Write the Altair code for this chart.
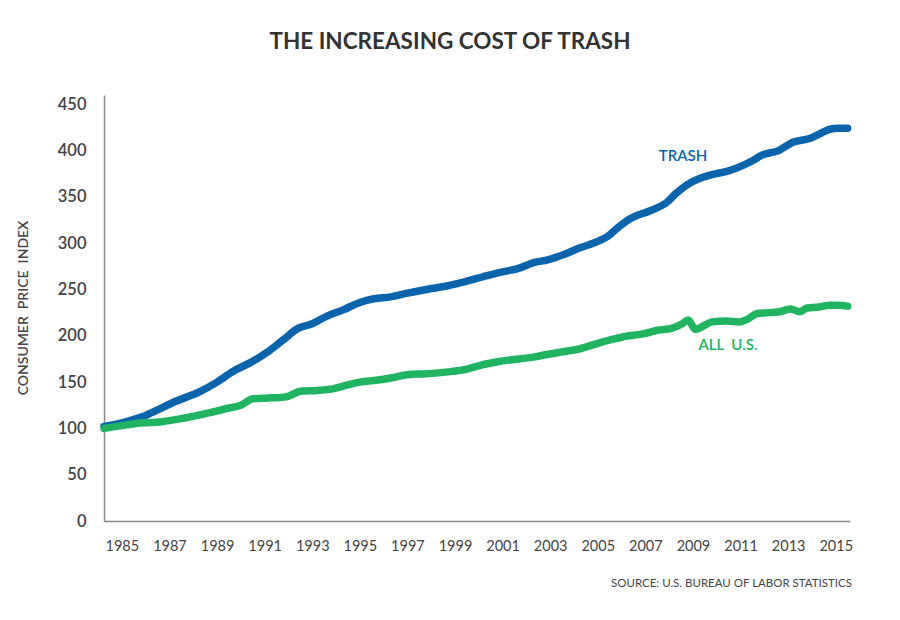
import altair as alt
import pandas as pd

trash_years = [1984.25, 1985.0, 1985.9, 1986.5, 1987.15, 1988.3, 1989.0, 1989.7, 1990.4, 1991.1,
               1991.8, 1992.4, 1993.0, 1993.6, 1994.3, 1995.0, 1995.6, 1996.3, 1997.0, 1997.8,
               1998.7, 1999.5, 2000.2, 2000.8, 2001.7, 2002.3, 2002.9, 2003.6, 2004.25, 2004.8,
               2005.4, 2005.9, 2006.4, 2007.2, 2007.9, 2008.3, 2008.75, 2009.3, 2009.8, 2010.5,
               2011.1, 2011.5, 2011.9, 2012.6, 2013.2, 2013.9, 2014.4, 2014.75, 2015.1, 2015.5]
trash_cpi = [102, 106, 113, 120, 128, 140, 150, 162, 171, 182,
             196, 208, 213, 221, 228, 236, 240, 242, 246, 250,
             254, 259, 264, 268, 273, 279, 282, 288, 295, 300,
             307, 318, 327, 335, 344, 354, 363, 370, 374, 378,
             384, 389, 395, 400, 409, 413, 419, 423, 424, 424]

all_years = [1984.25, 1985.0, 1985.9, 1986.6, 1987.6, 1988.7, 1989.5, 1990.0, 1990.5, 1991.3,
             1991.9, 1992.5, 1993.2, 1993.9, 1994.5, 1995.0, 1995.7, 1996.4, 1997.0, 1997.8,
             1998.7, 1999.5, 2000.2, 2000.8, 2001.7, 2002.3, 2002.9, 2003.6, 2004.25, 2004.9,
             2005.6, 2006.3, 2006.9, 2007.5, 2008.1, 2008.55, 2008.8, 2009.1, 2009.4, 2009.8,
             2010.4, 2010.95, 2011.3, 2011.7, 2012.2, 2012.65, 2013.1, 2013.5, 2013.8, 2014.3,
             2014.75, 2015.1, 2015.5]
all_cpi = [100, 103, 106, 107, 111, 117, 122, 125, 132, 133,
           134, 140, 141, 143, 147, 150, 152, 155, 158, 159,
           161, 164, 169, 172, 175, 177, 180, 183, 186, 191,
           196, 200, 202, 206, 208, 213, 217, 207, 210, 215,
           216, 215, 218, 224, 225, 226, 229, 226, 230, 231,
           233, 233, 232]

x_ticks = list(range(1985, 2016, 2))
y_ticks = list(range(0, 451, 50))

df = pd.concat([
    pd.DataFrame({"year": trash_years, "cpi": trash_cpi, "series": "TRASH"}),
    pd.DataFrame({"year": all_years, "cpi": all_cpi, "series": "ALL U.S."}),
])

blue = "#0a64ab"
green = "#20b462"
font = "Lato"

x = alt.X("year:Q", scale=alt.Scale(domain=[1984.25, 2015.6], nice=False, zero=False),
          axis=alt.Axis(values=x_ticks, format="d", title=None, ticks=False, grid=False,
                        domainColor="#8a8a8a", domainWidth=1.5, labelPadding=18,
                        labelFontSize=14.5, labelColor="#444444", labelFont=font,
                        labelFlush=False, labelOverlap=False))
y = alt.Y("cpi:Q", scale=alt.Scale(domain=[0, 460], nice=False),
          axis=alt.Axis(values=y_ticks, title=None, ticks=False, grid=False,
                        domainColor="#8a8a8a", domainWidth=1.5, labelPadding=18,
                        labelFontSize=16.5, labelFontWeight=600, labelColor="#444444",
                        labelFont=font))

lines = alt.Chart(df).mark_line(strokeWidth=7.5, strokeCap="round", strokeJoin="round",
                                interpolate="monotone").encode(
    x=x, y=y,
    color=alt.Color("series:N", scale=alt.Scale(domain=["TRASH", "ALL U.S."], range=[blue, green]),
                    legend=None),
    detail="series:N",
)

def label(text, px, py, size, color, weight="bold", angle=0, align="center"):
    return alt.Chart(pd.DataFrame({"t": [text]})).mark_text(
        font=font, fontSize=size, fontWeight=weight, color=color, align=align,
        baseline="middle", angle=angle
    ).encode(text="t:N", x=alt.value(px), y=alt.value(py))

title = label("THE INCREASING COST OF TRASH", 346, -53, 22.5, "#333333")
trash_lbl = label("TRASH", 579, 61, 15, blue, weight=600)
all_lbl = label("ALL\u00a0 U.S.", 624, 250, 15, green, weight=600)
ytitle = label("CONSUMER\u00a0 PRICE\u00a0 INDEX", -80, 213, 14, "#444444", weight=600, angle=270)
source = label("SOURCE: U.S. BUREAU OF LABOR STATISTICS", 748, 489, 11.5, "#444444", weight="normal", align="right")

chart = alt.layer(lines, title, trash_lbl, all_lbl, ytitle, source).properties(
    width=746, height=426,
    autosize=alt.AutoSizeParams(type="none"),
    padding={"left": 96, "top": 87, "right": 42, "bottom": 91},
    background="white",
).configure_view(stroke=None)

chart.save("out.html", embed_options={"renderer": "svg", "actions": False})
